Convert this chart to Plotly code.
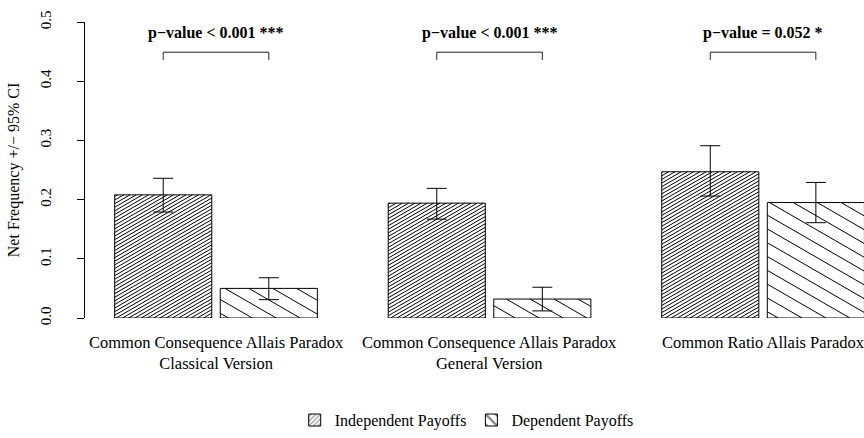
import math
import plotly.graph_objects as go

# ---- data ----------------------------------------------------------------
groups = [
    "Common Consequence Allais Paradox<br>Classical Version",
    "Common Consequence Allais Paradox<br>General Version",
    "Common Ratio Allais Paradox",
]
series_names = ["Independent Payoffs", "Dependent Payoffs"]

indep_freq = [0.208, 0.194, 0.247]
indep_ci_lo = [0.179, 0.167, 0.206]
indep_ci_hi = [0.236, 0.219, 0.291]

dep_freq = [0.050, 0.032, 0.195]
dep_ci_lo = [0.031, 0.012, 0.161]
dep_ci_hi = [0.068, 0.052, 0.229]

p_labels = ["p\u2212value < 0.001 ***", "p\u2212value < 0.001 ***", "p\u2212value = 0.052 *"]

# ---- layout constants ----------------------------------------------------
W, H = 864, 438
M_L, M_R, M_T, M_B = 85, 0, 22, 120
X_RANGE = [-0.479, 2.369]
Y_RANGE = [0.0, 0.5]
BAR_W = 0.355
BAR_OFF = 0.193          # distance of each bar centre from the group centre
FONT = "Liberation Serif, Times New Roman, serif"

plot_w = W - M_L - M_R
plot_h = H - M_T - M_B
sx = plot_w / (X_RANGE[1] - X_RANGE[0])   # px per x unit
sy = plot_h / (Y_RANGE[1] - Y_RANGE[0])   # px per y unit

gx = list(range(len(groups)))
offsets = [-BAR_OFF, BAR_OFF]


def hatch_segments(x0, x1, y0, y1, angle_deg, vstep):
    """Hatch lines (in data coords) at a screen angle, clipped to a bar."""
    px0, px1 = (x0 - X_RANGE[0]) * sx, (x1 - X_RANGE[0]) * sx
    py0, py1 = y0 * sy, y1 * sy
    m = math.tan(math.radians(angle_deg))
    xs, ys = [], []
    cmin, cmax = py0 - max(m * px0, m * px1), py1 - min(m * px0, m * px1)
    k = math.floor(cmin / vstep)
    while k * vstep <= cmax:
        c = k * vstep
        k += 1
        a, b = (py0 - c) / m, (py1 - c) / m
        lo, hi = max(min(a, b), px0), min(max(a, b), px1)
        if hi - lo <= 0.3:
            continue
        for px in (lo, hi):
            xs.append(px / sx + X_RANGE[0])
            ys.append((m * px + c) / sy)
        xs.append(None)
        ys.append(None)
    return xs, ys


fig = go.Figure()

series = [
    (indep_freq, indep_ci_lo, indep_ci_hi, 30, 3.6, "/", 4),
    (dep_freq, dep_ci_lo, dep_ci_hi, -30, 13.8, "\\", 9),
]

for si, (vals, lo, hi, ang, vstep, pshape, psize) in enumerate(series):
    xc = [g + offsets[si] for g in gx]
    fig.add_trace(go.Bar(
        x=xc, y=vals, width=BAR_W,
        marker=dict(color="white", line=dict(color="black", width=1)),
        error_y=dict(type="data", symmetric=False,
                     array=[h - v for h, v in zip(hi, vals)],
                     arrayminus=[v - l for v, l in zip(vals, lo)],
                     color="black", thickness=1, width=10),
        showlegend=False, hoverinfo="skip",
    ))
    hx, hy = [], []
    for x, v in zip(xc, vals):
        sx_, sy_ = hatch_segments(x - BAR_W / 2, x + BAR_W / 2, 0, v, ang, vstep)
        hx += sx_
        hy += sy_
    fig.add_trace(go.Scatter(
        x=hx, y=hy, mode="lines", line=dict(color="black", width=1),
        showlegend=False, hoverinfo="skip", cliponaxis=True,
    ))
    # legend swatch
    fig.add_trace(go.Bar(
        x=[None], y=[None], name=series_names[si],
        marker=dict(color="white", line=dict(color="black", width=1),
                    pattern=dict(shape=pshape, size=psize, solidity=0.3,
                                 fgcolor="black", bgcolor="white")),
    ))

# significance brackets and p-value labels
for g, lab in zip(gx, p_labels):
    xa, xb = g - BAR_OFF, g + BAR_OFF
    fig.add_shape(type="path",
                  path=f"M {xa},0.436 L {xa},0.449 L {xb},0.449 L {xb},0.436",
                  xref="x", yref="y", line=dict(color="#222", width=1))
    fig.add_annotation(x=g, y=0.481, xref="x", yref="y", text=f"<b>{lab}</b>",
                       showarrow=False, font=dict(family=FONT, size=16, color="black"))

# group names under the bars
for g, name in zip(gx, groups):
    fig.add_annotation(x=g, y=0, xref="x", yref="y", text=name, showarrow=False,
                       xanchor="center", yanchor="top", yshift=-13, align="center",
                       font=dict(family=FONT, size=16.5, color="black"))

fig.update_layout(
    width=W, height=H,
    margin=dict(l=M_L, r=M_R, t=M_T, b=M_B, pad=0),
    plot_bgcolor="white", paper_bgcolor="white",
    barmode="overlay",
    font=dict(family=FONT, size=16, color="black"),
    xaxis=dict(range=X_RANGE, showticklabels=False, showgrid=False,
               zeroline=False, showline=False, ticks=""),
    yaxis=dict(range=Y_RANGE, tickvals=[0, 0.1, 0.2, 0.3, 0.4, 0.5], tickformat=".1f",
               showgrid=False, zeroline=False, showline=True, linecolor="black",
               linewidth=1, ticks="outside", ticklen=7, tickcolor="black",
               tickangle=-90, tickfont=dict(size=15), ticklabelstandoff=20,
               title=dict(text="Net Frequency +/\u2212 95% CI", standoff=14,
                          font=dict(size=16))),
    legend=dict(orientation="h", x=0.49, xanchor="center", y=-0.345, yanchor="middle",
                font=dict(size=16), itemwidth=30, traceorder="normal"),
)

fig.write_html("out.html")
